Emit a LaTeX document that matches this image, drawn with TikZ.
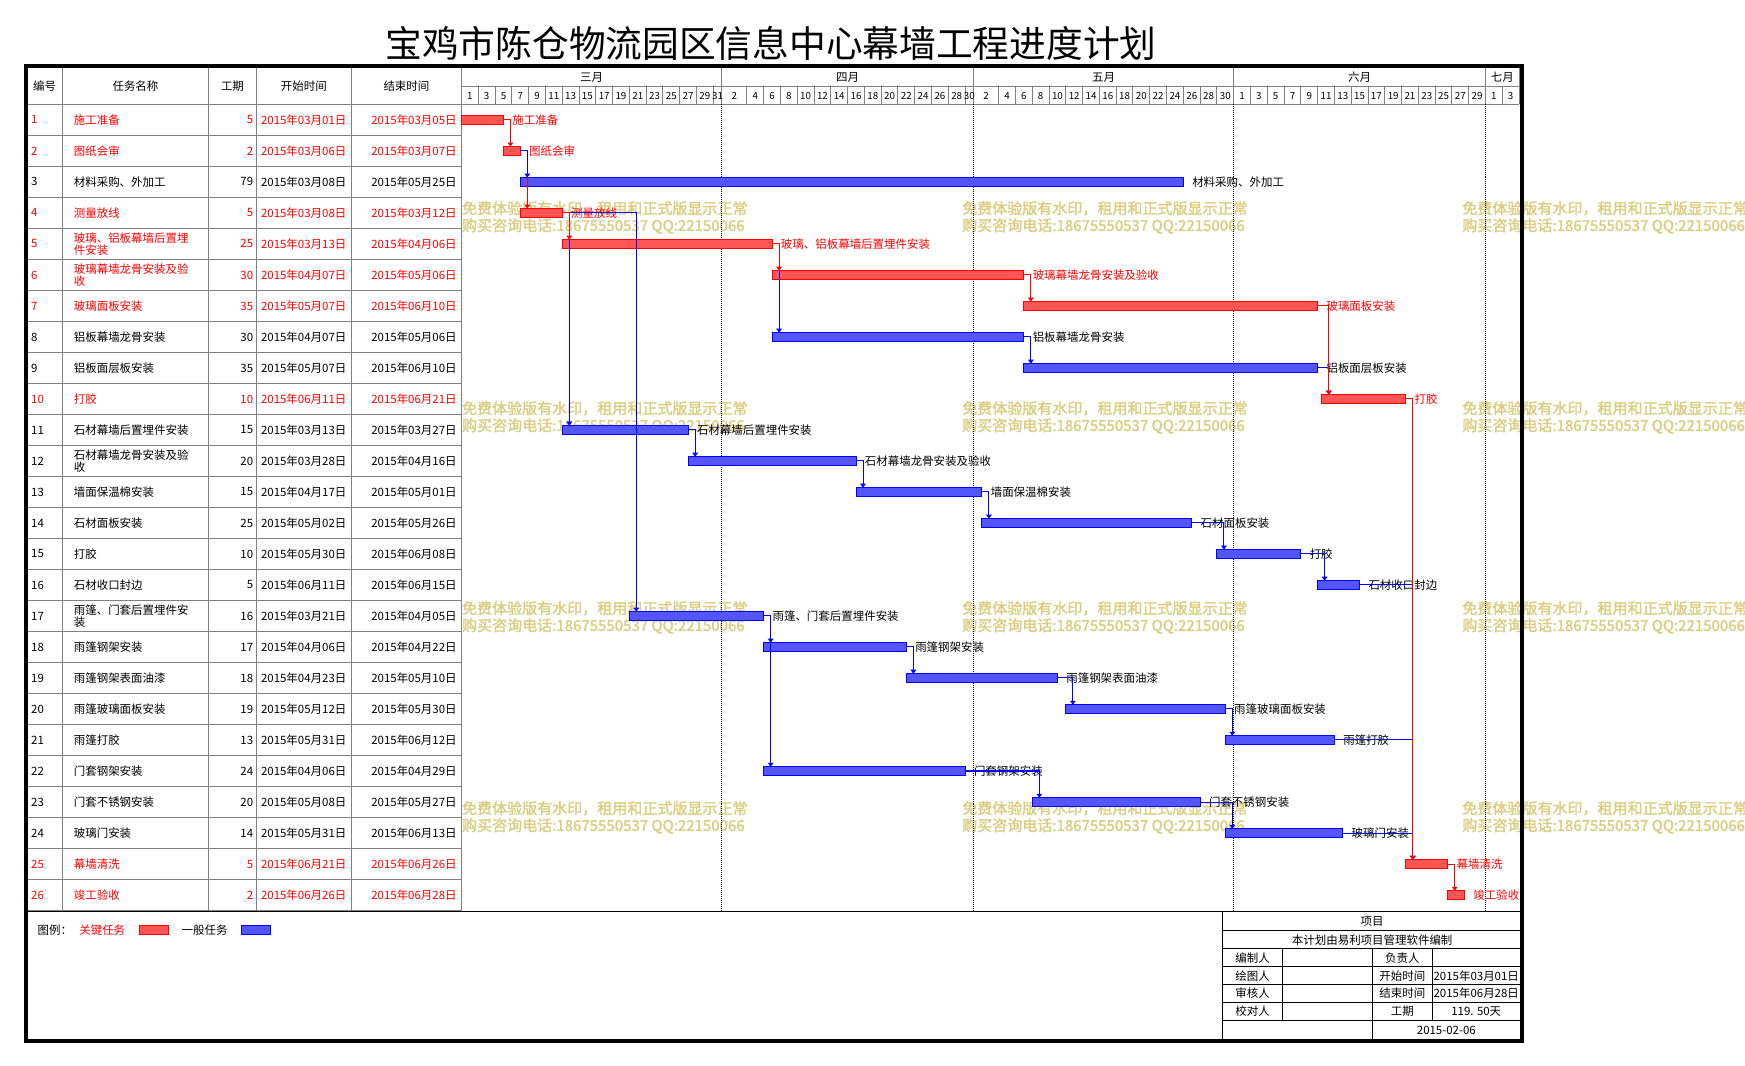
\documentclass[tikz,border=0pt]{standalone}
\usepackage{fontspec}
\setmainfont{Noto Sans CJK SC}
\newfontfamily\wmfont[FakeBold=2]{Noto Sans CJK SC}
\usetikzlibrary{arrows.meta}
\definecolor{gridgray}{RGB}{128,128,128}
\definecolor{wmcol}{RGB}{218,206,130}
\definecolor{critfill}{RGB}{255,85,85}
\definecolor{normfill}{RGB}{85,85,255}
\tikzset{
 tx/.style={inner sep=0pt, outer sep=0pt, font=\fontsize{10.3}{11.2}\selectfont},
 crittxt/.style={tx, text=red},
 normtxt/.style={tx, text=black},
 barbase/.style={line width=0.9pt, minimum height=7.6pt, inner sep=0pt, outer sep=0pt},
 critbar/.style={barbase, draw=red, fill=critfill},
 normbar/.style={barbase, draw=blue, fill=normfill},
 critlink/.style={draw=red, line width=0.9pt, -{Triangle[width=5pt,length=3.6pt]}},
 normlink/.style={draw=blue, line width=0.9pt, -{Triangle[width=5pt,length=3.6pt]}},
 gridln/.style={draw=gridgray, line width=0.9pt},
 mdot/.style={draw=black, line width=0.9pt, dash pattern=on 0.9pt off 0.9pt},
 blk/.style={draw=black, line width=0.9pt},
 framebox/.style={draw=black, line width=3.8pt},
 daytx/.style={inner sep=0pt, font=\fontsize{8.8}{9}\selectfont},
 wm/.style={inner sep=0pt, anchor=west, text=wmcol, font=\wmfont\fontsize{13.5}{14}\selectfont},
}
\newcommand\gtask[9]{%
 \pgfmathsetmacro\yc{93.8+(#1-0.5)*27.86}%
 \node[#9txt, anchor=west] (id#1) at (28,\yc) {#1};
 \node[#9txt, anchor=west, align=left] (nm#1) at (66.4,\yc) {#2};
 \node[#9txt, anchor=east] (du#1) at (227.5,\yc) {#4};
 \node[#9txt, anchor=east] (sd#1) at (311.2,\yc) {#5};
 \node[#9txt, anchor=east] (ed#1) at (410.3,\yc) {#6};
 \pgfmathsetmacro\xs{414.7+7.542*#7}%
 \pgfmathsetmacro\bw{7.542*(#8-#7)}%
 \node[#9bar, minimum width=\bw pt, anchor=west] (b#1) at (\xs,\yc) {};
 \node[#9txt, anchor=west] (lb#1) at ([xshift=8pt,yshift=-0.5pt]b#1.east) {#3};
}
\begin{document}
\begin{tikzpicture}[x=1pt,y=-1pt]
\useasboundingbox (0,0) rectangle (1568,957);
\fill[white] (0,0) rectangle (1568,957);

% watermarks
\foreach \r [count=\ri] in {187.2,366.9,546.6,726.3}{
 \foreach \c [count=\ci] in {415,864.4,1313.8}{
  \node[wm] (wma\ri\ci) at ({\c},{\r}) {免费体验版有水印，租用和正式版显示正常};
  \node[wm] (wmb\ri\ci) at ({\c},{\r+15.9}) {购买咨询电话:18675550537 QQ:22150066};
 }
}

% title
\node[inner sep=0pt, font=\fontsize{33}{36}\selectfont] (title) at (692.8,39) {宝鸡市陈仓物流园区信息中心幕墙工程进度计划};

% table grid
\foreach \i in {1,...,25}{
 \draw[gridln] (23,{93.8+\i*27.86}) -- (414.7,{93.8+\i*27.86});
}
\draw[gridln] (23,818.2) -- (414.7,818.2);
\foreach \x in {56.1,187.4,230.4,315.7,414.7}{
 \draw[gridln] (\x,61) -- (\x,818.2);
}
\draw[gridln] (23,93.8) -- ({414.7+7.542*126},93.8);
\draw[gridln] (414.7,77.9) -- ({414.7+7.542*126},77.9);
\foreach \d in {31,61,92,122,126}{
 \draw[gridln] ({414.7+7.542*\d},61) -- ({414.7+7.542*\d},93.8);
}
\foreach \d in {2,4,...,30}{ \draw[gridln] ({414.7+7.542*\d},77.9) -- ({414.7+7.542*\d},93.8); }
\foreach \d in {34,36,...,60}{ \draw[gridln] ({414.7+7.542*\d},77.9) -- ({414.7+7.542*\d},93.8); }
\foreach \d in {64,66,...,90}{ \draw[gridln] ({414.7+7.542*\d},77.9) -- ({414.7+7.542*\d},93.8); }
\foreach \d in {94,96,...,120}{ \draw[gridln] ({414.7+7.542*\d},77.9) -- ({414.7+7.542*\d},93.8); }
\draw[gridln] ({414.7+7.542*124},77.9) -- ({414.7+7.542*124},93.8);

% month dotted lines
\foreach \d in {31,61,92,122}{
 \draw[mdot] ({414.7+7.542*\d},93.8) -- ({414.7+7.542*\d},818.6);
}

% header texts
\node[normtxt] (h1) at (40.1,77.6) {编号};
\node[normtxt] (h2) at (121.75,77.6) {任务名称};
\node[normtxt] (h3) at (208.9,77.6) {工期};
\node[normtxt] (h4) at (273,77.6) {开始时间};
\node[normtxt] (h5) at (365.2,77.6) {结束时间};
\node[normtxt] (m3) at ({414.7+7.542*15.5},69.8) {三月};
\node[normtxt] (m4) at ({414.7+7.542*46},69.8) {四月};
\node[normtxt] (m5) at ({414.7+7.542*76.5},69.8) {五月};
\node[normtxt] (m6) at ({414.7+7.542*107},69.8) {六月};
\node[normtxt] (m7) at ({414.7+7.542*124},69.8) {七月};

% day numbers
\foreach \k in {1,3,...,29}{ \node[daytx] (dm\k) at ({414.7+7.542*\k},86) {\k}; }
\node[daytx] (dm31) at ({414.7+7.542*30.5},86) {31};
\node[daytx] (da2) at ({414.7+7.542*32.5},86) {2};
\foreach \k in {4,6,...,28}{ \node[daytx] (da\k) at ({414.7+7.542*(31+\k)},86) {\k}; }
\node[daytx] (da30) at ({414.7+7.542*60.5},86) {30};
\node[daytx] (dy2) at ({414.7+7.542*62.5},86) {2};
\foreach \k in {4,6,...,28}{ \node[daytx] (dy\k) at ({414.7+7.542*(61+\k)},86) {\k}; }
\node[daytx] (dy30) at ({414.7+7.542*91},86) {30};
\foreach \k in {1,3,...,29}{ \node[daytx] (dj\k) at ({414.7+7.542*(92+\k)},86) {\k}; }
\node[daytx] (dl1) at ({414.7+7.542*123},86) {1};
\node[daytx] (dl3) at ({414.7+7.542*125},86) {3};

% tasks
\gtask{1}{施工准备}{施工准备}{5}{2015年03月01日}{2015年03月05日}{0}{5}{crit}
\gtask{2}{图纸会审}{图纸会审}{2}{2015年03月06日}{2015年03月07日}{5}{7}{crit}
\gtask{3}{材料采购、外加工}{材料采购、外加工}{79}{2015年03月08日}{2015年05月25日}{7}{86}{norm}
\gtask{4}{测量放线}{测量放线}{5}{2015年03月08日}{2015年03月12日}{7}{12}{crit}
\gtask{5}{玻璃、铝板幕墙后置埋\\件安装}{玻璃、铝板幕墙后置埋件安装}{25}{2015年03月13日}{2015年04月06日}{12}{37}{crit}
\gtask{6}{玻璃幕墙龙骨安装及验\\收}{玻璃幕墙龙骨安装及验收}{30}{2015年04月07日}{2015年05月06日}{37}{67}{crit}
\gtask{7}{玻璃面板安装}{玻璃面板安装}{35}{2015年05月07日}{2015年06月10日}{67}{102}{crit}
\gtask{8}{铝板幕墙龙骨安装}{铝板幕墙龙骨安装}{30}{2015年04月07日}{2015年05月06日}{37}{67}{norm}
\gtask{9}{铝板面层板安装}{铝板面层板安装}{35}{2015年05月07日}{2015年06月10日}{67}{102}{norm}
\gtask{10}{打胶}{打胶}{10}{2015年06月11日}{2015年06月21日}{102.5}{112.5}{crit}
\gtask{11}{石材幕墙后置埋件安装}{石材幕墙后置埋件安装}{15}{2015年03月13日}{2015年03月27日}{12}{27}{norm}
\gtask{12}{石材幕墙龙骨安装及验\\收}{石材幕墙龙骨安装及验收}{20}{2015年03月28日}{2015年04月16日}{27}{47}{norm}
\gtask{13}{墙面保温棉安装}{墙面保温棉安装}{15}{2015年04月17日}{2015年05月01日}{47}{62}{norm}
\gtask{14}{石材面板安装}{石材面板安装}{25}{2015年05月02日}{2015年05月26日}{62}{87}{norm}
\gtask{15}{打胶}{打胶}{10}{2015年05月30日}{2015年06月08日}{90}{100}{norm}
\gtask{16}{石材收口封边}{石材收口封边}{5}{2015年06月11日}{2015年06月15日}{102}{107}{norm}
\gtask{17}{雨篷、门套后置埋件安\\装}{雨篷、门套后置埋件安装}{16}{2015年03月21日}{2015年04月05日}{20}{36}{norm}
\gtask{18}{雨篷钢架安装}{雨篷钢架安装}{17}{2015年04月06日}{2015年04月22日}{36}{53}{norm}
\gtask{19}{雨篷钢架表面油漆}{雨篷钢架表面油漆}{18}{2015年04月23日}{2015年05月10日}{53}{71}{norm}
\gtask{20}{雨篷玻璃面板安装}{雨篷玻璃面板安装}{19}{2015年05月12日}{2015年05月30日}{72}{91}{norm}
\gtask{21}{雨篷打胶}{雨篷打胶}{13}{2015年05月31日}{2015年06月12日}{91}{104}{norm}
\gtask{22}{门套钢架安装}{门套钢架安装}{24}{2015年04月06日}{2015年04月29日}{36}{60}{norm}
\gtask{23}{门套不锈钢安装}{门套不锈钢安装}{20}{2015年05月08日}{2015年05月27日}{68}{88}{norm}
\gtask{24}{玻璃门安装}{玻璃门安装}{14}{2015年05月31日}{2015年06月13日}{91}{105}{norm}
\gtask{25}{幕墙清洗}{幕墙清洗}{5}{2015年06月21日}{2015年06月26日}{112.5}{117.5}{crit}
\gtask{26}{竣工验收}{竣工验收}{2}{2015年06月26日}{2015年06月28日}{117.5}{119.5}{crit}

% links
\draw[critlink] (b1.east) -| ([xshift=6.3pt]b2.north west);
\draw[critlink] (b2.east) -| ([xshift=6.3pt]b4.north west);
\draw[normlink] (b2.east) -| ([xshift=6.3pt]b3.north west);
\draw[normlink] (b4.east) -| ([xshift=6.3pt]b17.north west);
\draw[normlink] (b4.east) -| ([xshift=6.3pt]b11.north west);
\draw[critlink] (b4.east) -| ([xshift=6.3pt]b5.north west);
\draw[normlink] (b5.east) -| ([xshift=6.3pt]b8.north west);
\draw[critlink] (b5.east) -| ([xshift=6.3pt]b6.north west);
\draw[critlink] (b6.east) -| ([xshift=6.3pt]b7.north west);
\draw[normlink] (b8.east) -| ([xshift=6.3pt]b9.north west);
\draw[normlink] (b9.east) -| ([xshift=6.3pt]b10.north west);
\draw[critlink] (b7.east) -| ([xshift=6.3pt]b10.north west);
\draw[normlink] (b11.east) -| ([xshift=6.3pt]b12.north west);
\draw[normlink] (b12.east) -| ([xshift=6.3pt]b13.north west);
\draw[normlink] (b13.east) -| ([xshift=6.3pt]b14.north west);
\draw[normlink] (b14.east) -| ([xshift=6.3pt]b15.north west);
\draw[normlink] (b15.east) -| ([xshift=6.3pt]b16.north west);
\draw[normlink] (b17.east) -| ([xshift=6.3pt]b22.north west);
\draw[normlink] (b17.east) -| ([xshift=6.3pt]b18.north west);
\draw[normlink] (b18.east) -| ([xshift=6.3pt]b19.north west);
\draw[normlink] (b19.east) -| ([xshift=6.3pt]b20.north west);
\draw[normlink] (b20.east) -| ([xshift=6.3pt]b21.north west);
\draw[normlink] (b22.east) -| ([xshift=6.3pt]b23.north west);
\draw[normlink] (b23.east) -| ([xshift=6.3pt]b24.north west);
\draw[normlink] (b16.east) -| ([xshift=6.3pt]b25.north west);
\draw[normlink] (b21.east) -| ([xshift=6.3pt]b25.north west);
\draw[normlink] (b24.east) -| ([xshift=6.3pt]b25.north west);
\draw[critlink] (b10.east) -| ([xshift=6.3pt]b25.north west);
\draw[critlink] (b25.east) -| ([xshift=6.3pt]b26.north west);

% bottom line and legend
\draw[blk] (23,819.2) -- (1367.7,819.2);
\node[normtxt, anchor=west] (lg0) at (33.9,835.7) {图例：};
\node[crittxt, anchor=west] (lg1) at (71.3,835.7) {关键任务};
\node[critbar, minimum width=25.5pt, anchor=west] (lg2) at (125.6,835.6) {};
\node[normtxt, anchor=west] (lg3) at (163.2,835.7) {一般任务};
\node[normbar, minimum width=25.7pt, anchor=west] (lg4) at (217,835.6) {};

% info block
\draw[blk] (1098.7,819.2) -- (1098.7,936);
\foreach \y in {836.3,852.5,868.4,884.8,900.7,916.6}{ \draw[blk] (1098.7,\y) -- (1367.7,\y); }
\draw[blk] (1152.3,852.5) -- (1152.3,916.6);
\draw[blk] (1287.1,852.5) -- (1287.1,916.6);
\draw[blk] (1233.2,852.5) -- (1233.2,936);
\node[normtxt] (ib1) at (1233,827.9) {项目};
\node[normtxt] (ib2) at (1233,844.5) {本计划由易利项目管理软件编制};
\node[normtxt] (ib3) at (1125.5,860.6) {编制人};
\node[normtxt] (ib4) at (1260.1,860.6) {负责人};
\node[normtxt] (ib5) at (1125.5,876.7) {绘图人};
\node[normtxt] (ib6) at (1260.1,876.7) {开始时间};
\node[normtxt] (ib7) at (1326.5,876.7) {2015年03月01日};
\node[normtxt] (ib8) at (1125.5,892.8) {审核人};
\node[normtxt] (ib9) at (1260.1,892.8) {结束时间};
\node[normtxt] (ib10) at (1326.5,892.8) {2015年06月28日};
\node[normtxt] (ib11) at (1125.5,908.7) {校对人};
\node[normtxt] (ib12) at (1260.1,908.7) {工期};
\node[normtxt] (ib13) at (1326.5,908.7) {119. 50天};
\node[normtxt] (ib14) at (1299.6,926.3) {2015-02-06};

% frame
\draw[framebox] (23.1,59.6) rectangle (1367.7,935.6);
\end{tikzpicture}
\end{document}
